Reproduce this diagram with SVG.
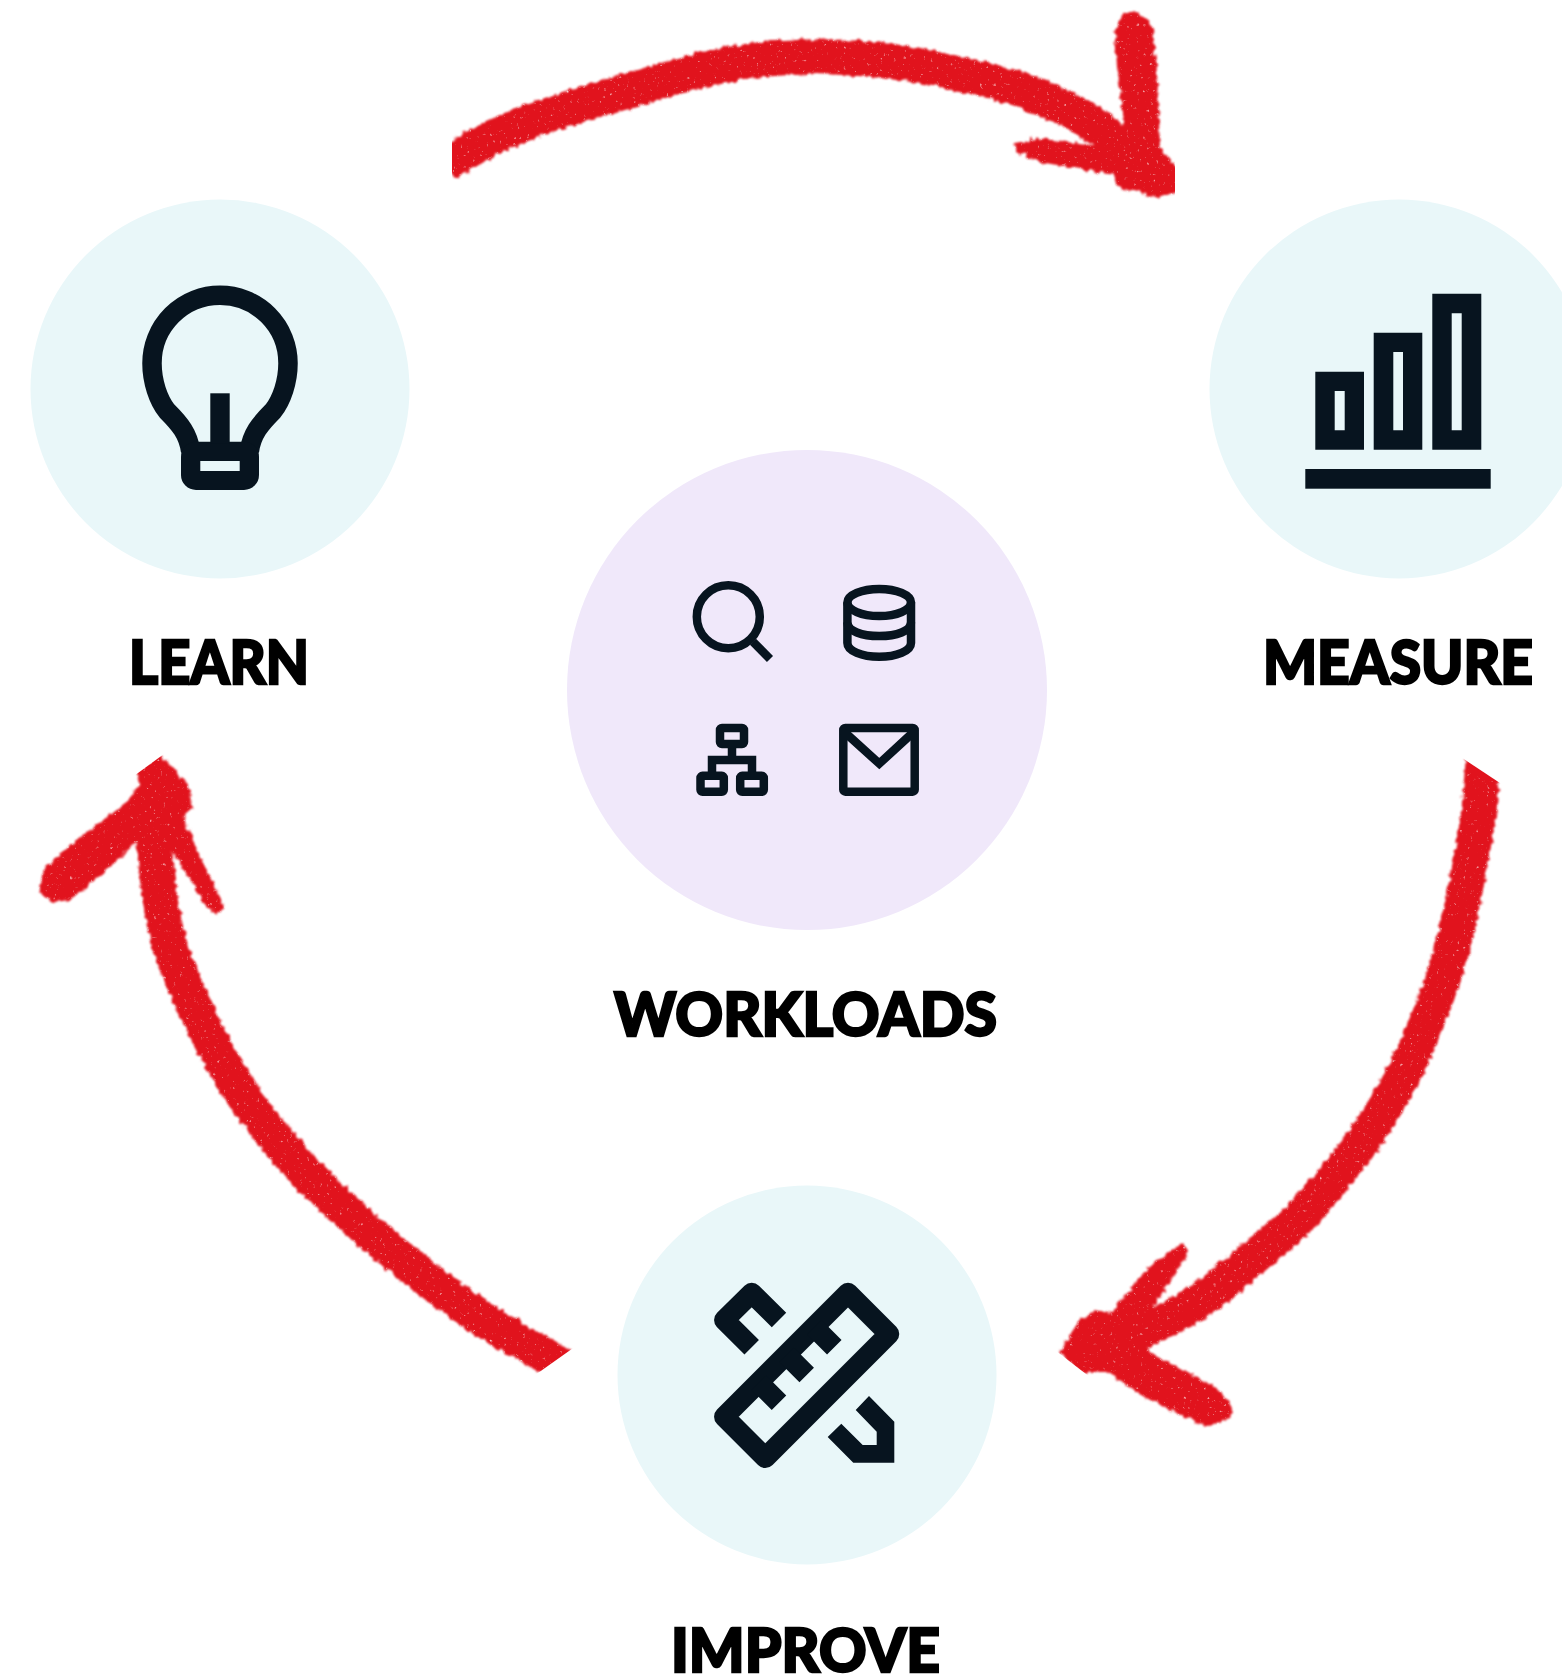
<svg xmlns="http://www.w3.org/2000/svg" width="1562" height="1674" viewBox="0 0 1562 1674">
<style>
.mint{fill:#e9f7f9}
.lilac{fill:#f0e8fa}
.ink{fill:#07141f}
.line{fill:none;stroke:#07141f}
.label{font-family:"Lato","Inter","Liberation Sans",sans-serif;font-weight:900;font-size:60px;fill:#000;stroke:#000;stroke-width:2.4}
.shaft{fill:none;stroke:#e1131d;stroke-width:35}
.head{fill:#e1131d}
</style>
<defs>
<filter id="crayon" filterUnits="userSpaceOnUse" x="0" y="0" width="1562" height="1674" color-interpolation-filters="sRGB">
<feTurbulence type="fractalNoise" baseFrequency="0.18" numOctaves="2" seed="7" result="n"/>
<feDisplacementMap in="SourceGraphic" in2="n" scale="7" xChannelSelector="R" yChannelSelector="G"/>
<feGaussianBlur stdDeviation="1" result="soft"/>
<feTurbulence type="fractalNoise" baseFrequency="0.3" numOctaves="2" seed="3"/>
<feColorMatrix values="0 0 0 0 0  0 0 0 0 0  0 0 0 0 0  3 0 0 0 -2.05" result="speck"/>
<feComposite in="soft" in2="speck" operator="out"/>
</filter>
<clipPath id="clip1"><rect x="452" y="0" width="723" height="230"/></clipPath>
<clipPath id="clip2"><polygon points="1408,722 1530,803 1530,1450 1185,1450 1000,1308"/></clipPath>
<clipPath id="clip3"><polygon points="0,874 220,713 600,1329 480,1414 0,1414"/></clipPath>
</defs>
<rect width="1562" height="1674" fill="#fff"/>
<g id="connectors">
<g id="arrow-learn-measure" clip-path="url(#clip1)"><g filter="url(#crayon)">
<path class="shaft" d="M445,164 L484,142 Q516,124 573,107 Q631,90 679,76 Q727,63 767,59 Q807,55 853,58 Q899,61 937,69 Q976,77 1013,87 Q1050,100 1075,113 Q1100,127 1122,147 Q1143,167 1160,185"/>
<path class="head" d="M1115,33 L1122,15 L1135,11 L1150,22 L1153,30 L1157,73 L1160,147 L1180,172 L1180,192 L1157,197 L1117,187 L1113,175 L1040,162 L1017,152 L1015,143 L1040,138 L1100,147 L1125,130 L1117,67 Z"/>
</g></g>
<g id="arrow-measure-improve" clip-path="url(#clip2)"><g filter="url(#crayon)">
<path class="shaft" d="M1484,750 L1479,810 Q1468,886 1454,940 Q1441,993 1414,1052 Q1388,1110 1350,1158 Q1313,1207 1285,1231 Q1257,1255 1228,1279 Q1200,1303 1170,1318 Q1140,1333 1112,1343 L1085,1352"/>
<path class="head" d="M1183,1243 L1189,1252 L1177,1270 L1150,1312 L1150,1340 L1143,1345 L1150,1352 L1220,1390 L1233,1407 L1230,1418 L1207,1427 L1150,1400 L1107,1372 L1078,1372 L1060,1352 L1068,1338 L1078,1322 L1095,1310 L1110,1313 L1153,1263 L1175,1248 Z"/>
</g></g>
<g id="arrow-improve-learn" clip-path="url(#clip3)"><g filter="url(#crayon)">
<path class="shaft" d="M575,1372 L517,1340 Q480,1319 437,1287 Q395,1255 352,1217 Q310,1180 272,1134 Q235,1089 211,1041 Q187,993 175,961 Q164,930 158,885 Q153,840 151,790"/>
<path class="head" d="M135,770 L158,752 L173,768 L187,783 L193,808 L183,817 L203,863 L220,897 L223,908 L217,915 L207,907 L170,847 L138,840 L107,870 L70,900 L53,902 L40,893 L43,870 L73,843 L130,800 L140,783 Z"/>
</g></g>
</g>
<g id="learn">
<circle class="mint" cx="220" cy="389" r="189.5"/>
<path class="line" stroke-width="19.5" d="M190.7,451.3 C188.3,434 180,424 167,411 C158.3,400 152,381.7 152,363.3 A68,68 0 0 1 288,363.3 C288,381.7 281.7,400 273,411 C260,424 251.7,434 249.3,451.3"/>
<rect class="ink" x="181" y="441.7" width="78" height="48.3" rx="15"/>
<rect class="mint" x="200.3" y="461" width="39.4" height="10"/>
<rect class="ink" x="210.3" y="393.3" width="19.4" height="50"/>
<text class="label" x="129" y="684" textLength="180" lengthAdjust="spacingAndGlyphs">LEARN</text>
</g>
<g id="measure">
<circle class="mint" cx="1399" cy="389" r="189.5"/>
<path class="ink" fill-rule="evenodd" d="M1315.3,371.7H1364V449.7H1315.3Z M1334.7,391V430.3H1344.7V391Z M1373.7,332.7H1422.3V449.7H1373.7Z M1393.3,352V430.3H1403V352Z M1432.3,293.7H1481.3V449.7H1432.3Z M1451.7,313.3V430.3H1461.7V313.3Z"/>
<rect class="ink" x="1305.3" y="469" width="185.4" height="19.7"/>
<text class="label" x="1263" y="684" textLength="270" lengthAdjust="spacingAndGlyphs">MEASURE</text>
</g>
<g id="workloads">
<circle class="lilac" cx="807" cy="690" r="240"/>
<g class="line" stroke-width="8.5">
<circle cx="728.3" cy="616.7" r="31.5"/>
<path d="M753,641.7 L770,659"/>
<ellipse cx="879.2" cy="602.5" rx="31.8" ry="13.5"/>
<path d="M847.4,602.5 V643 C847.4,651 862,656.7 879.2,656.7 C896.4,656.7 911,651 911,643 V602.5"/>
<path d="M847.4,622.5 C847.4,631 862,636 879.2,636 C896.4,636 911,631 911,622.5"/>
<rect x="720" y="728" width="24" height="16" rx="2"/>
<rect x="700.5" y="775.8" width="23.3" height="16" rx="2"/>
<rect x="740.2" y="775.8" width="23.6" height="16" rx="2"/>
<path d="M732,747 V760 M712,772 V760 H752 V772"/>
<rect x="843.3" y="728" width="71.4" height="63.7" rx="2"/>
<path d="M843.3,731 L879.3,763.6 L914.7,731"/>
</g>
<text class="label" x="614" y="1035.7" textLength="383" lengthAdjust="spacingAndGlyphs">WORKLOADS</text>
</g>
<g id="improve">
<circle class="mint" cx="807" cy="1375" r="189.5"/>
<g class="line" stroke-width="20.5" stroke-linejoin="round">
<path d="M848,1293 L889,1334 L765.3,1457.7 L724.3,1416.7 Z"/>
<path d="M814.3,1327.3 L834.3,1347.3 M786.7,1355 L806.7,1375 M759,1382.7 L779,1402.7"/>
<path d="M779,1320 L751.7,1293 L724.3,1320 L751.7,1347.3"/>
</g>
<polygon class="ink" points="869,1396 894.3,1421.7 894.3,1462.7 853.3,1462.7 827.7,1437 841.3,1423.7 862.7,1445 876.7,1445 876.7,1431.7 855.7,1410"/>
<text class="label" x="671" y="1671.5" textLength="269" lengthAdjust="spacingAndGlyphs">IMPROVE</text>
</g>
</svg>
